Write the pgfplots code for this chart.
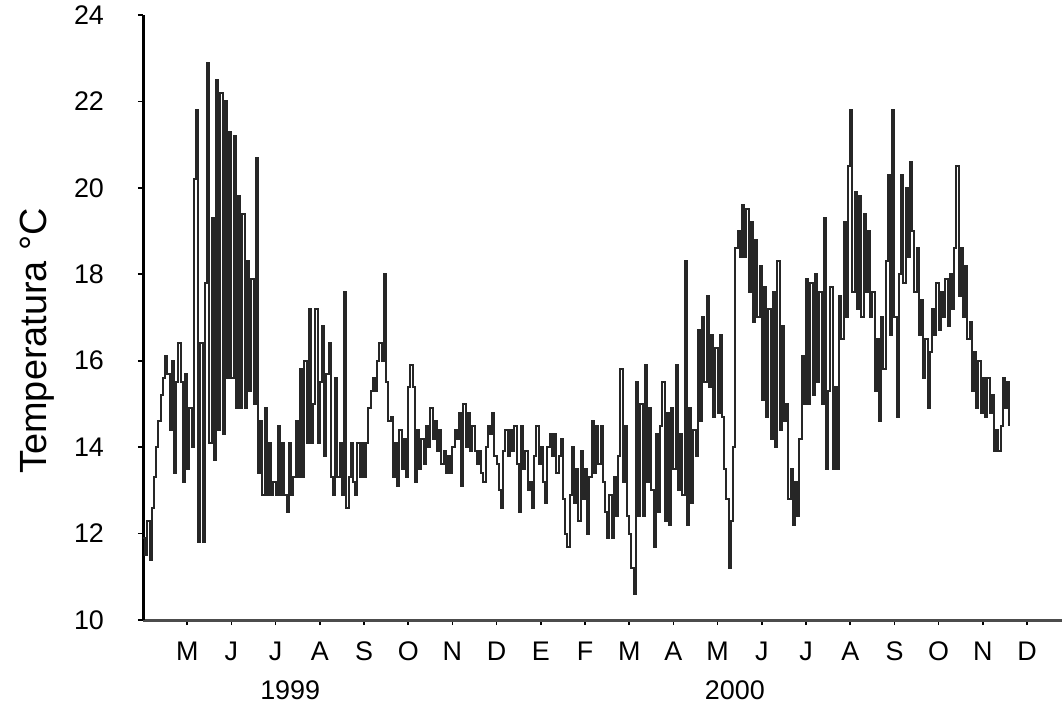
\documentclass[border=0pt]{standalone}
\usepackage{fontspec}
\setmainfont{Liberation Sans}
\usepackage{pgfplots}
\pgfplotsset{compat=1.18}

% sea temperature record, x = months from April 1999
\pgfplotstableread{
x y
0.00 11.9
0.05 11.5
0.10 12.3
0.15 11.4
0.20 12.6
0.25 13.3
0.30 14.0
0.35 14.6
0.40 15.2
0.45 15.6
0.50 16.1
0.55 15.7
0.60 14.4
0.65 16.0
0.70 13.4
0.75 15.5
0.80 16.4
0.85 15.5
0.90 13.2
0.95 15.7
1.00 13.5
1.05 14.9
1.10 14.0
1.15 20.2
1.20 21.8
1.25 11.8
1.30 16.4
1.35 11.8
1.40 17.8
1.45 22.9
1.50 14.1
1.55 19.3
1.60 13.7
1.65 22.5
1.70 14.4
1.75 22.2
1.80 14.3
1.85 22.0
1.90 15.6
1.95 21.3
2.00 15.6
2.05 21.2
2.10 14.9
2.15 19.8
2.20 14.9
2.25 19.4
2.30 14.9
2.35 18.3
2.40 15.3
2.45 17.9
2.50 15.0
2.55 20.7
2.60 13.4
2.65 14.6
2.70 12.9
2.75 14.9
2.80 12.9
2.85 14.1
2.90 12.9
2.95 13.2
3.00 12.9
3.05 14.5
3.10 12.9
3.15 14.1
3.20 12.9
3.25 12.5
3.30 14.1
3.35 12.9
3.40 13.3
3.45 14.6
3.50 13.3
3.55 15.8
3.60 13.3
3.65 16.0
3.70 14.1
3.75 17.2
3.80 14.1
3.85 15.0
3.90 17.2
3.95 14.1
4.00 15.5
4.05 16.8
4.10 13.8
4.15 15.7
4.20 16.4
4.25 13.3
4.30 12.9
4.35 15.6
4.40 13.3
4.45 14.1
4.50 12.9
4.55 17.6
4.60 12.6
4.65 13.3
4.70 14.1
4.75 13.2
4.80 12.9
4.85 14.1
4.90 13.3
4.95 14.1
5.00 13.3
5.05 14.1
5.10 14.9
5.15 15.3
5.20 15.6
5.25 15.3
5.30 16.0
5.35 16.4
5.40 16.0
5.45 18.0
5.50 15.5
5.55 14.6
5.60 14.7
5.65 13.3
5.70 14.1
5.75 13.1
5.80 14.4
5.85 13.5
5.90 14.2
5.95 13.3
6.00 15.4
6.05 15.9
6.10 15.4
6.15 13.2
6.20 14.4
6.25 13.5
6.30 14.2
6.35 13.6
6.40 14.5
6.45 14.0
6.50 14.9
6.55 14.2
6.60 14.6
6.65 13.9
6.70 14.4
6.75 13.6
6.80 13.9
6.85 13.4
6.90 13.8
6.95 13.4
7.00 14.0
7.05 14.4
7.10 14.2
7.15 14.8
7.20 13.1
7.25 15.0
7.30 14.0
7.35 14.8
7.40 13.9
7.45 14.5
7.50 13.9
7.55 13.6
7.60 13.9
7.65 13.4
7.70 13.2
7.75 14.0
7.80 14.5
7.85 14.3
7.90 14.8
7.95 13.8
8.00 13.6
8.05 13.0
8.10 12.6
8.15 13.9
8.20 14.4
8.25 13.8
8.30 14.4
8.35 13.9
8.40 14.5
8.45 13.6
8.50 12.5
8.55 14.5
8.60 13.5
8.65 13.9
8.70 13.0
8.75 13.2
8.80 12.6
8.85 13.8
8.90 14.5
8.95 13.6
9.00 14.0
9.05 13.2
9.10 12.7
9.15 14.0
9.20 14.3
9.25 13.8
9.30 14.3
9.35 13.4
9.40 13.8
9.45 14.2
9.50 12.8
9.55 12.0
9.60 11.7
9.65 12.9
9.70 14.0
9.75 12.7
9.80 13.5
9.85 12.3
9.90 13.9
9.95 12.8
10.00 13.5
10.05 12.0
10.10 13.3
10.15 14.6
10.20 13.4
10.25 14.5
10.30 13.6
10.35 14.5
10.40 13.2
10.45 12.5
10.50 11.9
10.55 12.9
10.60 11.9
10.65 13.3
10.70 12.4
10.75 13.8
10.80 15.8
10.85 13.2
10.90 14.5
10.95 12.4
11.00 12.0
11.05 11.2
11.10 10.6
11.15 15.5
11.20 12.4
11.25 15.0
11.30 12.4
11.35 15.9
11.40 13.2
11.45 14.9
11.50 13.0
11.55 11.7
11.60 14.3
11.65 12.5
11.70 14.5
11.75 15.5
11.80 12.3
11.85 14.8
11.90 12.2
11.95 14.9
12.00 13.5
12.05 15.9
12.10 13.0
12.15 14.3
12.20 12.9
12.25 18.3
12.30 12.2
12.35 14.9
12.40 12.7
12.45 14.4
12.50 13.8
12.55 16.7
12.60 14.6
12.65 17.0
12.70 15.5
12.75 17.5
12.80 15.4
12.85 16.6
12.90 14.7
12.95 16.3
13.00 14.8
13.05 16.6
13.10 14.7
13.15 13.5
13.20 12.8
13.25 11.2
13.30 12.3
13.35 14.0
13.40 18.6
13.45 19.0
13.50 18.4
13.55 19.6
13.60 18.4
13.65 19.5
13.70 17.6
13.75 19.2
13.80 16.9
13.85 18.8
13.90 17.0
13.95 18.2
14.00 15.1
14.05 17.7
14.10 14.7
14.15 17.2
14.20 14.2
14.25 17.6
14.30 14.0
14.35 18.3
14.40 14.4
14.45 16.8
14.50 14.6
14.55 15.0
14.60 12.8
14.65 13.5
14.70 12.2
14.75 13.2
14.80 12.4
14.85 14.2
14.90 16.1
14.95 15.0
15.00 17.9
15.05 15.0
15.10 17.8
15.15 15.2
15.20 18.0
15.25 15.5
15.30 17.6
15.35 15.0
15.40 19.3
15.45 13.5
15.50 15.3
15.55 17.7
15.60 13.5
15.65 15.4
15.70 13.5
15.75 17.5
15.80 16.5
15.85 19.2
15.90 17.0
15.95 20.5
16.00 21.8
16.05 17.6
16.10 19.9
16.15 17.2
16.20 19.8
16.25 17.0
16.30 19.4
16.35 17.6
16.40 19.0
16.45 17.0
16.50 17.6
16.55 15.3
16.60 16.5
16.65 14.6
16.70 17.0
16.75 15.8
16.80 18.3
16.85 20.3
16.90 16.6
16.95 21.8
17.00 17.0
17.05 14.7
17.10 18.0
17.15 20.3
17.20 17.8
17.25 20.0
17.30 18.4
17.35 20.6
17.40 19.0
17.45 17.6
17.50 18.6
17.55 16.6
17.60 17.4
17.65 15.6
17.70 16.5
17.75 14.9
17.80 16.2
17.85 17.2
17.90 16.6
17.95 17.8
18.00 16.7
18.05 17.6
18.10 17.0
18.15 17.9
18.20 16.8
18.25 18.0
18.30 17.2
18.35 18.6
18.40 20.5
18.45 17.5
18.50 18.6
18.55 17.0
18.60 18.2
18.65 16.5
18.70 16.9
18.75 15.3
18.80 16.2
18.85 14.9
18.90 16.0
18.95 14.8
19.00 15.6
19.05 14.7
19.10 15.6
19.15 14.8
19.20 15.2
19.25 13.9
19.30 14.4
19.35 13.9
19.40 14.5
19.45 15.6
19.50 14.9
19.55 15.5
19.60 14.5
}\temps

\begin{document}
\begin{tikzpicture}
\begin{axis}[
  name=ax,
  scale only axis,
  width=459.5bp, height=302.5bp,
  xmin=0, xmax=20.79,
  ymin=10, ymax=24,
  axis lines=left,
  axis line style={-},
  x axis line style={black!70, line width=1.5bp},
  y axis line style={black, line width=1.5bp},
  ytick={10,12,...,24},
  xtick={1,...,20},
  xticklabels={M,J,J,A,S,O,N,D,E,F,M,A,M,J,J,A,S,O,N,D},
  tick align=outside,
  major tick length=2.5bp,
  tick style={black, line width=0.8bp},
  ticklabel style={font=\fontsize{13.5}{15}\selectfont},
  /pgf/number format/assume math mode=true,
  yticklabel style={xshift=-13.5bp},
  xticklabel style={yshift=-5bp},
  clip=false,
]
\addplot[const plot, black!85, line width=1.0bp] table {\temps};
\node[font=\fontsize{13.5}{15}\selectfont] at (axis cs:3.33,8.38) {1999};
\node[font=\fontsize{13.5}{15}\selectfont] at (axis cs:13.39,8.38) {2000};
\node[font=\fontsize{19}{22}\selectfont, rotate=90] at (axis cs:-2.4,16.46) {Temperatura °C};
\end{axis}
\pgfresetboundingbox
\path ([xshift=-71.5bp,yshift=-41.5bp]ax.south west) rectangle ([yshift=7.5bp]ax.north east);
\end{tikzpicture}
\end{document}
